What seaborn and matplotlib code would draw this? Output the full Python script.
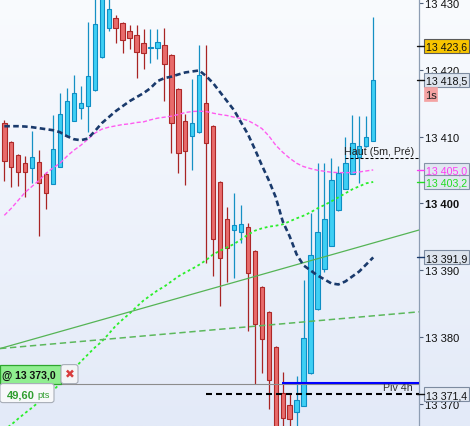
import numpy as np
import pandas as pd
import matplotlib
matplotlib.use("Agg")
import matplotlib.pyplot as plt
import seaborn as sns
from matplotlib.colors import LinearSegmentedColormap
from matplotlib.patches import Rectangle, FancyBboxPatch
from matplotlib.lines import Line2D

# ---------------- data ----------------
opens = [13412.1, 13409.25, 13407.3, 13406.1, 13405.35, 13406.25, 13404.35, 13402.95, 13405.5, 13410.15,
         13412.4, 13414.35, 13414.6, 13416.9, 13421.85, 13426.2, 13427.7, 13426.95, 13425.75, 13425.15,
         13423.95, 13423.2, 13423.2, 13423.65, 13422.15, 13417.05, 13412.4, 13410.15, 13410.75, 13414.95,
         13411.65, 13403.25, 13397.6, 13396.0, 13395.7, 13396.4, 13392.9, 13387.5, 13383.65, 13378.5,
         13371.65, 13369.85, 13368.75, 13369.65, 13374.55, 13384.1, 13390.2, 13393.65, 13398.95, 13402.2,
         13404.45, 13407.0, 13408.55, 13409.35]
highs = [13412.5, 13409.4, 13407.4, 13407.05, 13410.8, 13407.95, 13404.75, 13413.2, 13416.5, 13417.25,
         13419.2, 13417.5, 13427.1, 13432.0, 13434.0, 13431.5, 13428.2, 13427.1, 13426.7, 13426.7,
         13426.1, 13426.05, 13426.05, 13426.25, 13422.3, 13417.2, 13413.45, 13418.6, 13423.7, 13423.7,
         13411.8, 13403.4, 13399.5, 13401.5, 13399.7, 13397.0, 13393.0, 13387.6, 13383.8, 13378.6,
         13374.8, 13371.5, 13374.2, 13388.45, 13398.5, 13406.1, 13406.1, 13406.75, 13405.6, 13409.95,
         13413.25, 13413.15, 13413.1, 13427.95]
lows = [13403.3, 13402.45, 13402.6, 13400.9, 13403.1, 13395.1, 13399.2, 13402.9, 13405.4, 13410.1,
        13412.3, 13412.7, 13410.7, 13416.8, 13421.8, 13425.75, 13423.95, 13422.45, 13423.05, 13418.7,
        13420.05, 13420.95, 13421.55, 13415.35, 13407.55, 13404.6, 13402.75, 13405.0, 13410.6, 13391.0,
        13389.1, 13384.6, 13388.2, 13388.75, 13394.05, 13380.9, 13373.0, 13374.65, 13369.25, 13364.0,
        13365.5, 13365.5, 13366.0, 13369.6, 13374.5, 13384.0, 13389.75, 13393.6, 13398.9, 13402.1,
        13404.4, 13403.1, 13408.5, 13409.3]
closes = [13406.35, 13405.5, 13404.7, 13404.7, 13407.0, 13403.1, 13401.6, 13408.2, 13413.45, 13415.25,
          13416.45, 13414.95, 13419.0, 13426.8, 13433.0, 13429.05, 13426.2, 13424.4, 13424.7, 13422.6,
          13422.45, 13423.4, 13424.1, 13420.8, 13412.1, 13407.6, 13407.9, 13412.1, 13419.15, 13409.1,
          13394.7, 13391.85, 13393.35, 13396.7, 13396.85, 13389.6, 13381.95, 13379.65, 13373.5, 13365.0,
          13367.85, 13367.7, 13370.6, 13379.9, 13392.2, 13395.75, 13397.6, 13403.45, 13404.6, 13406.0,
          13409.1, 13408.55, 13409.9, 13418.5]

ma_navy = [13411.55, 13411.55, 13411.55, 13411.5, 13411.4, 13411.25, 13411.1, 13410.95, 13410.65, 13410.05,
           13409.6, 13409.45, 13409.7, 13410.8, 13412.0, 13412.9, 13413.8, 13414.55, 13415.3, 13415.9,
           13416.5, 13417.25, 13418.3, 13418.75, 13418.97, 13419.3, 13419.6, 13419.75, 13419.9, 13419.05,
           13418.0, 13416.65, 13415.3, 13413.95, 13412.15, 13410.35, 13408.1, 13405.7, 13403.45, 13400.9,
           13397.3, 13395.05, 13392.35, 13390.7, 13389.95, 13389.2, 13388.6, 13388.0, 13387.85, 13388.3,
           13389.05, 13389.8, 13390.85, 13391.9]
ma_pink = [13398.2, 13399.25, 13400.45, 13401.65, 13402.55, 13403.45, 13404.5, 13405.3, 13406.0, 13407.05,
           13407.95, 13408.7, 13409.6, 13410.5, 13411.1, 13411.4, 13411.6, 13411.8, 13411.9, 13412.1,
           13412.2, 13412.5, 13412.75, 13412.9, 13413.05, 13413.3, 13413.6, 13413.75, 13413.8, 13413.75,
           13413.5, 13413.3, 13413.15, 13412.9, 13412.7, 13412.4, 13411.85, 13411.2, 13410.1, 13408.7,
           13407.65, 13406.75, 13406.0, 13405.5, 13405.2, 13404.95, 13404.8, 13404.65, 13404.6, 13404.6,
           13404.6, 13404.7, 13404.85, 13405.0]
ma_lime = [13366.1, 13366.85, 13367.75, 13368.6, 13369.4, 13370.3, 13371.15, 13371.95, 13373.0, 13374.05,
           13375.2, 13376.3, 13377.35, 13378.4, 13379.3, 13380.45, 13381.65, 13382.6, 13383.5, 13384.5,
           13385.45, 13386.2, 13386.95, 13387.55, 13388.3, 13389.05, 13389.65, 13390.2, 13390.8, 13391.5,
           13392.35, 13392.9, 13393.4, 13393.9, 13394.6, 13395.3, 13395.9, 13396.25, 13396.5, 13396.65,
           13396.85, 13397.3, 13397.75, 13398.15, 13398.65, 13399.25, 13399.75, 13400.3, 13400.9, 13401.5,
           13402.1, 13402.55, 13403.0, 13403.2]

trend_x = [-0.62, 59.58]
trend_solid = [13378.25, 13396.0]
trend_dashed = [13378.25, 13383.75]

order_level = 13373.0
pivot_level = 13373.1
stop_level = 13371.4
haut_level = 13406.72

y_ticks = [13370, 13380, 13390, 13400, 13410, 13420, 13430]
y_tick_labels = ["13 370", "13 380", "13 390", "13 400", "13 410", "13 420", "13 430"]

value_labels = [  # price, text, face, edge, text colour, tick colour
    (13423.6, "13 423,6", "#f7c400", "#5a5a5a", "#111111", "#111111"),
    (13418.5, "13 418,5", "#dde4ee", "#7d8ba0", "#111111", "#111111"),
    (13405.0, "13 405,0", "#e1e7f1", "#8593a8", "#ff3cf5", "#ff3cf5"),
    (13403.2, "13 403,2", "#e1e7f1", "#8593a8", "#22dd22", "#22dd22"),
    (13391.9, "13 391,9", "#dde4ee", "#7d8ba0", "#111111", "#1a3a6c"),
    (13371.4, "13 371,4", "#e4e9f2", "#7d8ba0", "#111111", "#111111"),
]
timer_price = 13416.4
timer_text = "1s"
order_text = "@ 13 373,0"
pts_value = "49,60"
pts_unit = "pts"
haut_text = "Haut (5m, Pré)"
pivot_text = "Piv 4h"

# ---------------- style ----------------
sns.set_theme(style="white")
plt.rcParams["font.family"] = ["Liberation Sans", "DejaVu Sans"]
plt.rcParams["lines.scale_dashes"] = False

W, H = 470, 427
fig = plt.figure(figsize=(W / 100, H / 100), dpi=100)

bg = fig.add_axes([0, 0, 1, 1])
cmap = LinearSegmentedColormap.from_list("bg", ["#f9fbfe", "#e3eaf8"])
bg.imshow(np.linspace(0, 1, 256).reshape(-1, 1), aspect="auto", cmap=cmap,
          extent=[0, 1, 0, 1], origin="upper")
bg.set_axis_off()

ax = fig.add_axes([0, 0, 419 / W, 1])
ax.patch.set_alpha(0)
ax.set_xlim(-0.62, 59.58)
ax.set_ylim(13366.65, 13430.6)

df = pd.DataFrame({"idx": np.arange(len(opens)), "open": opens, "high": highs,
                   "low": lows, "close": closes, "navy": ma_navy, "pink": ma_pink,
                   "lime": ma_lime})
up = df["close"] >= df["open"]
fill = np.where(up, "#3ecff4", "#e86b6b")
edge = np.where(up, "#0e8ec4", "#ad2828")
wick = np.where(up, "#1590c4", "#a82424")

ax.vlines(df["idx"], df["low"], df["high"], colors=wick, linewidth=0.9, zorder=3)
body_h = np.maximum((df["close"] - df["open"]).abs(), 0.2)
ax.bar(df["idx"], body_h, bottom=np.minimum(df["open"], df["close"]), width=0.63,
       color=fill, edgecolor=edge, linewidth=0.8, zorder=4)

# moving averages
sns.lineplot(data=df, x="idx", y="pink", ax=ax, color="#ff5cf0", linewidth=1.0,
             linestyle=(0, (3.0, 1.6)), legend=False, zorder=5)
sns.lineplot(data=df, x="idx", y="lime", ax=ax, color="#2bee2b", linewidth=1.3,
             linestyle=(0, (2.0, 2.0)), legend=False, zorder=5)
sns.lineplot(data=df, x="idx", y="navy", ax=ax, color="#1a3a6c", linewidth=1.9,
             linestyle=(0, (4.0, 2.4)), legend=False, zorder=6)

# trend lines
sns.lineplot(x=trend_x, y=trend_solid, ax=ax, color="#55b455", linewidth=0.9, legend=False, zorder=5)
sns.lineplot(x=trend_x, y=trend_dashed, ax=ax, color="#5cb85c", linewidth=1.1,
             linestyle=(0, (4.6, 2.6)), legend=False, zorder=5)

# horizontal levels
ax.axhline(order_level, color="#8c8c8c", linewidth=0.8, zorder=5)
ax.hlines(pivot_level, 39.9, 59.58, color="#0000ff", linewidth=1.5, zorder=7)
ax.hlines(stop_level, 29.0, 59.58, color="#000000", linewidth=1.5,
          linestyle=(0, (4.3, 2.9)), zorder=7)
ax.hlines(haut_level, 48.95, 59.58, color="#000000", linewidth=0.75,
          linestyle=(0, (2.2, 1.4)), zorder=7)
ax.text(58.9, 13407.8, haut_text, ha="right", va="center", fontsize=7.7, color="#222222", zorder=8)
ax.text(58.75, 13371.99, pivot_text, ha="right", va="baseline", fontsize=7.7, color="#333333", zorder=6)

# axis styling
ax.yaxis.tick_right()
ax.set_yticks(y_ticks)
ax.set_yticklabels(y_tick_labels)
ax.tick_params(axis="y", direction="out", length=2.6, width=0.8, color="#50607a",
               pad=1.8, labelsize=8, labelcolor="#111111")
for lbl in ax.get_yticklabels():
    if lbl.get_text() == "13 400":
        lbl.set_fontweight("bold")
ax.set_xticks([])
ax.set_xlabel("")
ax.set_ylabel("")
for s in ["left", "top", "bottom"]:
    ax.spines[s].set_visible(False)
ax.spines["right"].set_color("#8d9db3")
ax.spines["right"].set_linewidth(0.9)


def ypix(price):
    return ax.transData.transform((0, price))[1]


for price, txt, fc, ec, tc, tk in value_labels:
    yc = ypix(price)
    fig.add_artist(Rectangle((424 / W, (yc - 7) / H), 45 / W, 14 / H, transform=fig.transFigure,
                             facecolor=fc, edgecolor=ec, linewidth=0.8, zorder=5))
    fig.add_artist(Line2D([417 / W, 424 / W], [yc / H, yc / H], transform=fig.transFigure,
                          color=tk, linewidth=1.0, zorder=5))
    fig.text(425.5 / W, yc / H, txt, ha="left", va="center_baseline", fontsize=7.7, color=tc, zorder=6)

yc = ypix(timer_price)
fig.add_artist(Rectangle((424 / W, (yc - 7) / H), 13 / W, 14 / H, transform=fig.transFigure,
                         facecolor="#f4a3a3", edgecolor="#f4a3a3", linewidth=0.5, zorder=5))
fig.text(430.5 / W, yc / H, timer_text, ha="center", va="center_baseline", fontsize=8,
         color="#222222", zorder=6)

# order widgets at the bottom-left
yo = ypix(order_level)
fig.add_artist(Rectangle((0, yo / H), 61 / W, 19 / H, transform=fig.transFigure,
                         facecolor="#90ee90", edgecolor="#2ea62e", linewidth=0.9, zorder=5))
fig.text(1.5 / W, (yo + 9.5) / H, order_text, ha="left", va="center_baseline", fontsize=7.6,
         fontweight="bold", color="#111111", zorder=6)
fig.add_artist(FancyBboxPatch((61 / W, yo / H), 17 / W, 19 / H, boxstyle="round,pad=0,rounding_size=0.006",
                              transform=fig.transFigure, facecolor="#f3f4f7", edgecolor="#a8aeb8",
                              linewidth=0.8, zorder=5))
fig.text(69.5 / W, (yo + 9.5) / H, "✖", ha="center", va="center", fontsize=8.5,
         color="#d83c3c", family=["DejaVu Sans"], zorder=6)
fig.add_artist(FancyBboxPatch((0, (yo - 19) / H), 54 / W, 19 / H, boxstyle="round,pad=0,rounding_size=0.006",
                              transform=fig.transFigure, facecolor="#f7f8fa", edgecolor="#a8aeb8",
                              linewidth=0.8, zorder=5))
fig.text(7 / W, (yo - 9.5) / H, pts_value, ha="left", va="center_baseline", fontsize=8,
         fontweight="bold", color="#2f9e2f", zorder=6)
fig.text(37 / W, (yo - 9.5) / H, pts_unit, ha="left", va="center_baseline", fontsize=6.6,
         color="#2f9e2f", zorder=6)

fig.savefig("out.png", dpi=100)
